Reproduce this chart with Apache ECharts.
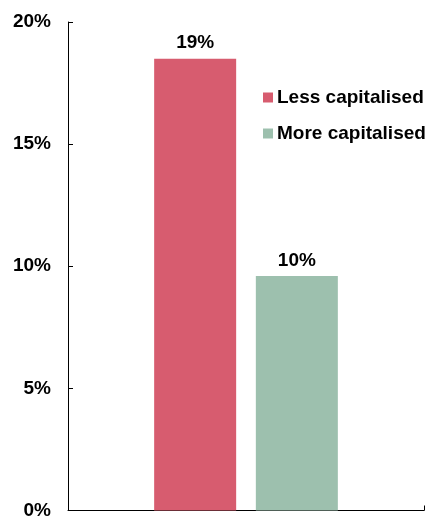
<!DOCTYPE html>
<html>
<head>
<meta charset="utf-8">
<script src="https://cdn.jsdelivr.net/npm/echarts@6/dist/echarts.min.js"></script>
<style>html,body{margin:0;padding:0;background:#fff;}#c{width:430px;height:520px;}</style>
</head>
<body>
<div id="c"></div>
<script>
const categories = [''];
const seriesNames = ['Less capitalised', 'More capitalised'];
const lessCapitalised = [18.5];
const moreCapitalised = [9.6];
const yTicks = [0, 5, 10, 15, 20];

const colors = ['#d75c6f', '#9dc0ae'];
const font = 'Liberation Sans, Arial, sans-serif';
const chart = echarts.init(document.getElementById('c'), null, {renderer: 'canvas'});
const labelStyle = {
  show: true, position: 'top', distance: 6,
  fontFamily: font, fontWeight: 'bold', fontSize: 19, color: '#000',
  formatter: p => Math.round(p.value) + '%'
};
chart.setOption({
  animation: false,
  color: colors,
  grid: {left: 68, right: 6, top: 22, bottom: 4, containLabel: false},
  legend: {
    orient: 'vertical', left: 263, top: 88, padding: 0,
    icon: 'rect', itemWidth: 10, itemHeight: 10, itemGap: 17,
    textStyle: {fontFamily: font, fontWeight: 'bold', fontSize: 19, color: '#000', padding: [0,0,0,-1]},
    data: seriesNames
  },
  xAxis: {
    type: 'category', data: categories,
    axisLine: {lineStyle: {color: '#000', width: 1}},
    axisTick: {show: true, inside: true, length: 5, lineStyle: {color: '#000', width: 1}},
    axisLabel: {show: false}
  },
  yAxis: {
    type: 'value', min: yTicks[0], max: yTicks[yTicks.length - 1], interval: 5,
    axisLine: {show: true, lineStyle: {color: '#000', width: 1}},
    axisTick: {show: true, inside: true, length: 5, lineStyle: {color: '#000', width: 1}},
    splitLine: {show: false},
    axisLabel: {margin: 17, fontFamily: font, fontWeight: 'bold', fontSize: 19, color: '#000', padding: [3,0,0,0], formatter: v => v + '%'}
  },
  series: [
    {name: seriesNames[0], type: 'bar', data: lessCapitalised, barWidth: 82, barGap: '24%', label: labelStyle},
    {name: seriesNames[1], type: 'bar', data: moreCapitalised, barWidth: 82, label: labelStyle}
  ]
});
</script>
</body>
</html>
